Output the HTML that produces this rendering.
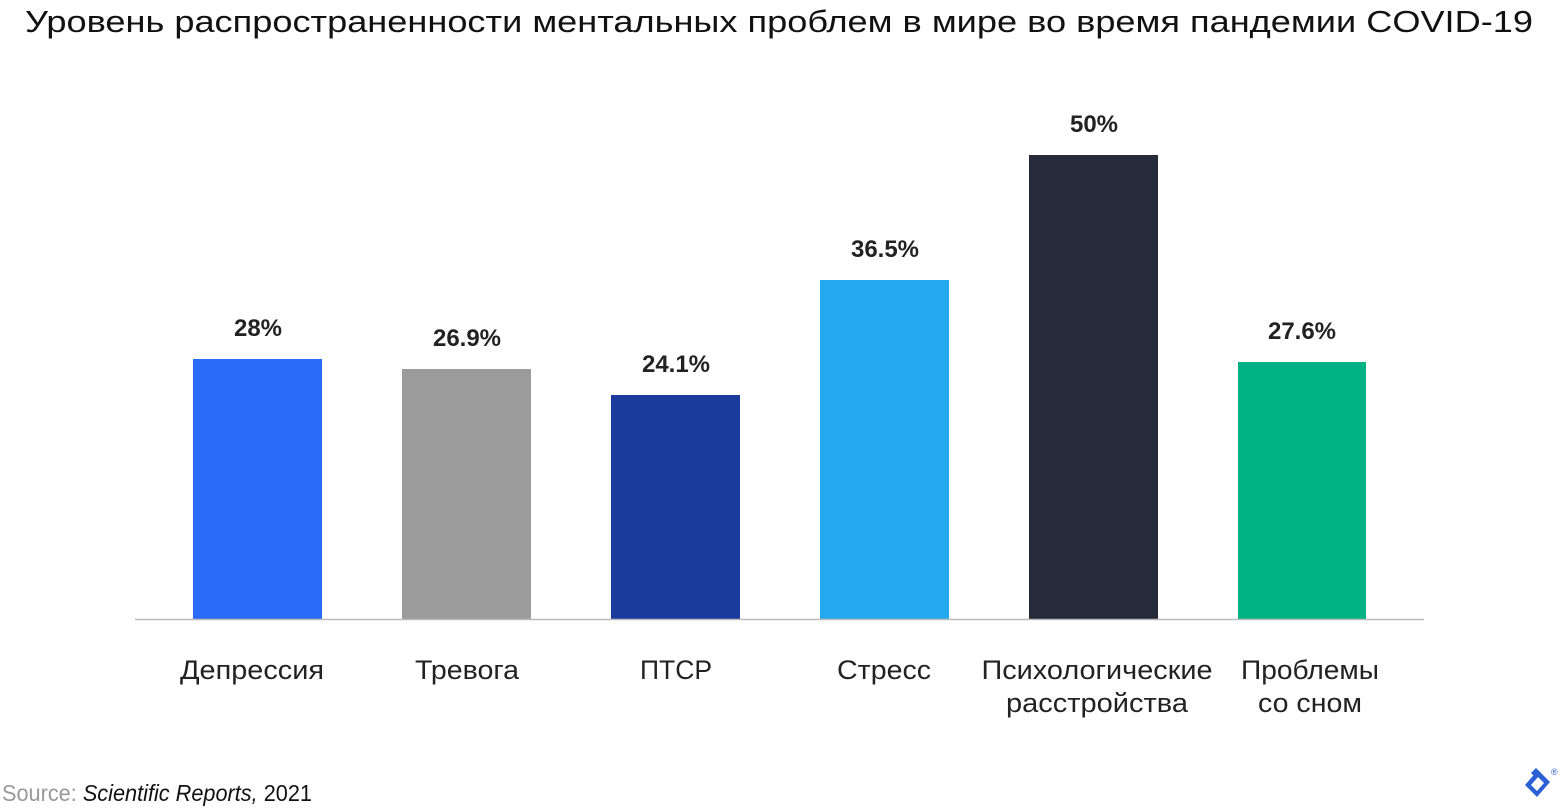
<!DOCTYPE html>
<html><head><meta charset="utf-8"><style>
html,body{margin:0;padding:0;background:#fff;width:1560px;height:810px;overflow:hidden}
text{font-family:"Liberation Sans",sans-serif}
</style></head><body>
<svg width="1560" height="810" viewBox="0 0 1560 810" xmlns="http://www.w3.org/2000/svg">
<text x="25" y="32" font-size="31" fill="#111" textLength="1508" lengthAdjust="spacingAndGlyphs">Уровень распространенности ментальных проблем в мире во время пандемии COVID-19</text>
<rect x="193" y="359" width="129" height="260" fill="#2a6bfb"/>
<rect x="402" y="369" width="129" height="250" fill="#9b9b9b"/>
<rect x="611" y="395" width="129" height="224" fill="#1a3a9e"/>
<rect x="820" y="280" width="129" height="339" fill="#25a9ee"/>
<rect x="1029" y="155" width="129" height="464" fill="#262b3a"/>
<rect x="1238" y="362" width="128" height="257" fill="#01b384"/>
<line x1="135" y1="619.5" x2="1424" y2="619.5" stroke="#bbb" stroke-width="1.5"/>
<g font-size="24" font-weight="bold" fill="#222" text-anchor="middle">
<text x="258" y="336">28%</text>
<text x="467" y="346">26.9%</text>
<text x="676" y="372">24.1%</text>
<text x="885" y="257">36.5%</text>
<text x="1094" y="132">50%</text>
<text x="1302" y="339">27.6%</text>
</g>
<g font-size="27" fill="#222" text-anchor="middle" lengthAdjust="spacingAndGlyphs">
<text x="252" y="679" textLength="144" lengthAdjust="spacingAndGlyphs">Депрессия</text>
<text x="467" y="679" textLength="104" lengthAdjust="spacingAndGlyphs">Тревога</text>
<text x="676" y="679" textLength="72" lengthAdjust="spacingAndGlyphs">ПТСР</text>
<text x="884" y="679" textLength="94" lengthAdjust="spacingAndGlyphs">Стресс</text>
<text x="1097" y="679" textLength="231" lengthAdjust="spacingAndGlyphs">Психологические</text>
<text x="1097" y="712" textLength="182" lengthAdjust="spacingAndGlyphs">расстройства</text>
<text x="1310" y="679" textLength="138" lengthAdjust="spacingAndGlyphs">Проблемы</text>
<text x="1310" y="712" textLength="104" lengthAdjust="spacingAndGlyphs">со сном</text>
</g>
<text x="2" y="801" font-size="23" fill="#999" textLength="310" lengthAdjust="spacingAndGlyphs">Source: <tspan fill="#111" font-style="italic">Scientific Reports,</tspan><tspan fill="#111"> 2021</tspan></text>
<polygon points="1525,785 1538,770 1550,782 1537,797" fill="#2a5fd6"/>
<polygon points="1531,785 1538,777 1544,783 1537,791" fill="#fff"/>
<polygon points="1531,773 1536,768 1541,773 1536,778" fill="#2a5fd6"/>
<text x="1551" y="775" font-size="9" fill="#2a5fd6">®</text>
</svg>
</body></html>
